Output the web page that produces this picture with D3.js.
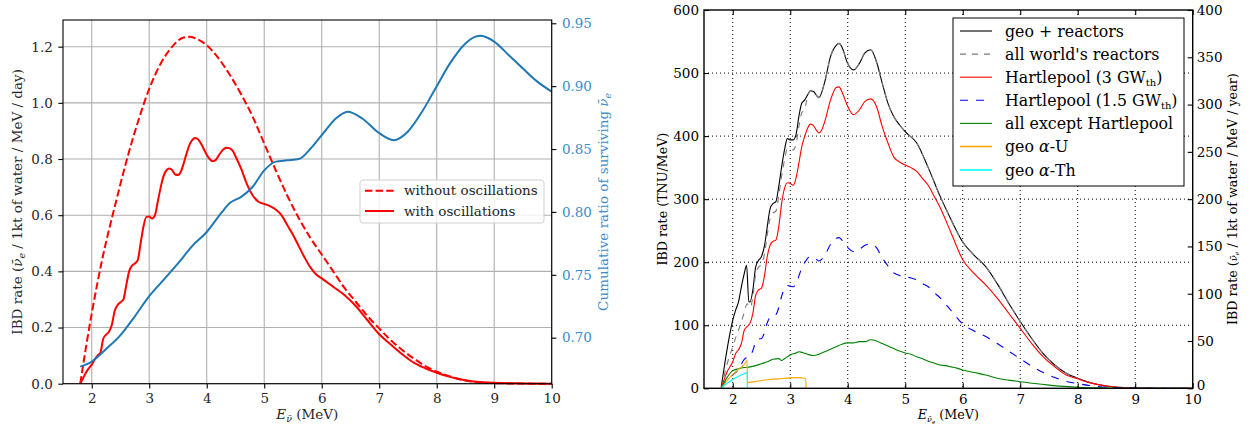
<!DOCTYPE html>
<html>
<head>
<meta charset="utf-8">
<script src="https://cdn.jsdelivr.net/npm/d3@7"></script>
<style>
body { margin: 0; background: white; }
svg text { font-family: "DejaVu Serif", serif; }
</style>
</head>
<body>
<div id="chart"></div>
<script>
// ---- left panel data ----
var noOscE = [1.8,1.9,2.0,2.2,2.4,2.6,2.8,3.0,3.2,3.4,3.6,3.7,3.8,4.0,4.2,4.4,4.6,4.8,5.0,5.2,5.4,5.6,5.8,6.0,6.2,6.4,6.6,6.8,7.0,7.2,7.4,7.6,7.8,8.0,8.2,8.4,8.6,8.8,9.0,9.5,10];
var noOscRate = [0,0.13,0.25,0.46,0.63,0.79,0.93,1.05,1.14,1.20,1.233,1.235,1.23,1.205,1.16,1.10,1.03,0.95,0.855,0.76,0.67,0.59,0.52,0.46,0.40,0.34,0.29,0.24,0.197,0.155,0.12,0.09,0.063,0.043,0.028,0.016,0.008,0.004,0.002,0.0005,0];

var oscE = [1.80,1.85,1.90,1.95,2.00,2.05,2.10,2.15,2.20,2.25,2.30,2.35,2.40,2.45,2.50,2.55,2.60,2.65,2.70,2.75,2.80,2.85,2.90,2.95,3.00,3.05,3.10,3.15,3.20,3.25,3.30,3.35,3.40,3.45,3.50,3.55,3.60,3.65,3.70,3.75,3.80,3.85,3.90,3.95,4.00,4.05,4.10,4.15,4.20,4.25,4.30,4.35,4.40,4.45,4.50,4.60,4.70,4.80,4.90,5.00,5.10,5.20,5.30,5.40,5.50,5.60,5.70,5.80,5.90,6.00,6.20,6.40,6.60,6.80,7.00,7.20,7.40,7.60,7.80,8.00,8.20,8.40,8.60,8.80,9.00,9.50,10];
var oscRate = [0,0.02,0.04,0.055,0.068,0.085,0.10,0.11,0.16,0.175,0.185,0.21,0.26,0.28,0.29,0.30,0.35,0.40,0.42,0.428,0.44,0.50,0.56,0.594,0.595,0.588,0.60,0.65,0.70,0.74,0.76,0.766,0.76,0.745,0.743,0.755,0.785,0.82,0.85,0.868,0.875,0.87,0.855,0.835,0.815,0.80,0.792,0.795,0.81,0.825,0.836,0.84,0.838,0.83,0.81,0.765,0.71,0.67,0.648,0.64,0.632,0.62,0.60,0.565,0.53,0.49,0.45,0.415,0.39,0.375,0.345,0.315,0.275,0.225,0.176,0.14,0.105,0.075,0.055,0.039,0.026,0.016,0.009,0.005,0.003,0.001,0];

var ratioE = [1.8,2.0,2.25,2.5,2.75,3.0,3.25,3.5,3.75,4.0,4.25,4.4,4.6,4.8,5.0,5.2,5.4,5.6,5.8,6.0,6.25,6.45,6.7,7.0,7.25,7.5,7.75,8.0,8.25,8.5,8.75,9.0,9.25,9.5,9.75,10];
var ratioVal = [0.677,0.681,0.691,0.702,0.717,0.733,0.746,0.759,0.773,0.784,0.799,0.807,0.812,0.820,0.833,0.840,0.841,0.842,0.850,0.861,0.8745,0.8797,0.8745,0.8626,0.857,0.864,0.880,0.900,0.9195,0.934,0.940,0.9354,0.9248,0.914,0.9036,0.8956];

var xTicks = [2,3,4,5,6,7,8,9,10];
var leftYTicks = [0,0.2,0.4,0.6,0.8,1.0,1.2];
var ratioTicks = [0.70,0.75,0.80,0.85,0.90,0.95];

// ---- right panel data ----
var totalE = [1.8,1.9,2.0,2.05,2.1,2.15,2.2,2.24,2.28,2.3,2.35,2.4,2.45,2.5,2.55,2.6,2.65,2.7,2.75,2.8,2.85,2.9,2.95,3.0,3.05,3.1,3.15,3.2,3.25,3.3,3.35,3.4,3.5,3.6,3.7,3.8,3.85,3.9,4.0,4.1,4.2,4.3,4.4,4.5,4.6,4.7,4.8,4.9,5.0,5.2,5.4,5.6,5.8,6.0,6.2,6.4,6.6,6.8,7.0,7.2,7.4,7.6,7.8,8.0,8.2,8.4,8.6,8.8,9.0,9.5,10];
var totalRate = [2,61,108,124,137,161,182,195,137,137,156,193,203,209,225,256,285,293,296,320,351,378,396,394,394,402,431,452,457,465,472,471,461,486,526,544,547,541,515,505,515,532,537,518,484,452,431,418,407,389,350,306,267,232,211,193,166,135,106,79,55,37,24,16,9.5,5.2,2.5,1,0.5,0.1,0];

var worldE = [1.8,1.9,2.0,2.05,2.1,2.15,2.2,2.25,2.3,2.35,2.4,2.45,2.5,2.55,2.6,2.65,2.7,2.75,2.8,2.85,2.9,2.95,3.0,3.05,3.1,3.15,3.2,3.25,3.3,3.35,3.4,3.5,3.6,3.7,3.8,3.85,3.9,4.0,4.1,4.2,4.3,4.4,4.5,4.6,4.7,4.8,4.9,5.0,5.2,5.4,5.6,5.8,6.0,6.2,6.4,6.6,6.8,7.0,7.2,7.4,7.6,7.8,8.0,8.2,8.4,8.6,8.8,9.0,9.5,10];
var worldRate = [0,38,66,80,92,106,120,134,128,145,182,192,197,212,243,270,278,281,305,336,362,380,378,378,387,415,437,442,462,472,471,461,486,526,544,547,541,515,505,515,532,537,518,484,452,431,418,407,389,350,306,267,232,211,193,166,135,106,79,55,37,24,16,9.5,5.2,2.5,1,0.5,0.1,0];

var hart3E = [1.8,1.9,2.0,2.05,2.1,2.15,2.2,2.25,2.3,2.35,2.4,2.45,2.5,2.55,2.6,2.65,2.7,2.75,2.8,2.85,2.9,2.95,3.0,3.05,3.1,3.15,3.2,3.25,3.3,3.35,3.4,3.45,3.5,3.55,3.6,3.7,3.8,3.85,3.9,4.0,4.1,4.2,4.3,4.4,4.5,4.6,4.7,4.8,4.9,5.0,5.1,5.2,5.3,5.4,5.5,5.6,5.8,6.0,6.2,6.4,6.6,6.8,7.0,7.2,7.4,7.6,7.8,8.0,8.2,8.4,8.6,8.8,9.0,9.5,10];
var hart3Rate = [0,26,42,55,61,71,92,98,103,119,148,156,159,177,209,227,233,235,256,293,317,326,325,322,333,357,383,399,412,419,417,410,405,410,423,457,477,478,470,447,434,441,455,459,447,415,389,367,359,354,350,344,333,322,305,288,246,204,182,164,143,119,95,71,50,34,21,15,9,5,2.5,1,0.5,0.1,0];

var hart15E = [1.8,1.9,2.0,2.1,2.2,2.25,2.3,2.35,2.4,2.45,2.5,2.55,2.6,2.65,2.7,2.75,2.8,2.85,2.9,2.95,3.0,3.05,3.1,3.15,3.2,3.25,3.3,3.35,3.4,3.45,3.5,3.55,3.6,3.7,3.8,3.85,3.9,4.0,4.1,4.2,4.3,4.4,4.5,4.6,4.7,4.8,4.9,5.0,5.1,5.2,5.3,5.4,5.5,5.6,5.8,6.0,6.2,6.4,6.6,6.8,7.0,7.2,7.4,7.6,7.8,8.0,8.2,8.4,8.6,8.8,9.0,9.5,10];
var hart15Rate = [0,13,21,30,46,49,51,60,74,78,79,88,104,113,116,117,128,146,158,163,162,161,166,178,191,199,206,209,208,205,202,205,211,228,238,239,235,223,217,220,227,229,223,207,194,183,179,177,175,172,166,161,152,144,123,102,91,82,71,59,47,35,25,17,11,7.5,4.5,2.5,1.2,0.5,0.2,0,0];

var otherE = [1.8,1.9,2.0,2.1,2.2,2.3,2.4,2.5,2.6,2.7,2.8,2.85,2.9,3.0,3.1,3.15,3.2,3.3,3.4,3.5,3.6,3.7,3.8,3.9,4.0,4.1,4.2,4.3,4.4,4.5,4.6,4.7,4.8,4.9,5.0,5.1,5.2,5.3,5.4,5.5,5.6,5.7,5.8,5.9,6.0,6.2,6.4,6.6,6.8,7.0,7.25,7.5,7.75,8.0,8.5,9.0,10];
var otherRate = [0,17,28,31,33,34,36,39,42,46,47,44,47,53,56,58,57,54,52,54,58,62,66,70,72,72,74,74,77,75,71,67,63,59,56,54,50,47,43,40,37,36,34,32,29,25,21,16,13,10.5,7.5,5,3,1.5,0.5,0.1,0];

var geoUE = [1.8,1.9,2.0,2.1,2.2,2.25,2.255,2.4,2.6,2.8,3.0,3.1,3.2,3.27,3.275];
var geoURate = [0,12,22,30,38,44,9,11,13.5,15,16.5,17,16.5,15.5,0];

var geoThE = [1.8,1.9,2.0,2.1,2.2,2.25,2.255];
var geoThRate = [0,8,14,19,23,25,0];

var tnuTicks = [0,100,200,300,400,500,600];
var yearTicks = [0,50,100,150,200,250,300,350,400];

var svg = d3.select("#chart").append("svg")
  .attr("width", 1250)
  .attr("height", 429)
  .style("background", "white");

function pts(xs, ys) { return xs.map(function (x, i) { return { e: x, v: ys[i] }; }); }

// ================= left panel =================
var L = { left: 63, right: 551.7, top: 20, bottom: 383.7 };
var xL = d3.scaleLinear().domain([1.5, 10]).range([L.left, L.right]);
var yL = d3.scaleLinear().domain([0, 1.295]).range([L.bottom, L.top]);
var yL2 = d3.scaleLinear().domain([0.6634, 0.9526]).range([L.bottom, L.top]);

var gl = svg.append("g");

gl.append("g").selectAll("line").data(xTicks).enter().append("line")
  .attr("x1", d => xL(d)).attr("x2", d => xL(d))
  .attr("y1", L.top).attr("y2", L.bottom)
  .attr("stroke", "#b0b0b0").attr("stroke-width", 1.1);
gl.append("g").selectAll("line").data(leftYTicks).enter().append("line")
  .attr("x1", L.left).attr("x2", L.right)
  .attr("y1", d => yL(d)).attr("y2", d => yL(d))
  .attr("stroke", "#b0b0b0").attr("stroke-width", 1.1);

var lineL = d3.line().x(d => xL(d.e)).y(d => yL(d.v)).curve(d3.curveMonotoneX);
var lineL2 = d3.line().x(d => xL(d.e)).y(d => yL2(d.v)).curve(d3.curveMonotoneX);

gl.append("path").datum(pts(noOscE, noOscRate))
  .attr("d", lineL).attr("fill", "none").attr("stroke", "#ff0000")
  .attr("stroke-width", 2).attr("stroke-dasharray", "7.4,3.2");
gl.append("path").datum(pts(oscE, oscRate))
  .attr("d", lineL).attr("fill", "none").attr("stroke", "#ff0000").attr("stroke-width", 2);
gl.append("path").datum(pts(ratioE, ratioVal))
  .attr("d", lineL2).attr("fill", "none").attr("stroke", "#1f77b4").attr("stroke-width", 2);

// axes
var axBL = gl.append("g").attr("transform", "translate(0," + L.bottom + ")")
  .call(d3.axisBottom(xL).tickValues(xTicks).tickFormat(d3.format("d")).tickSize(4.7).tickPadding(5).tickSizeOuter(0));
var axLL = gl.append("g").attr("transform", "translate(" + L.left + ",0)")
  .call(d3.axisLeft(yL).tickValues(leftYTicks).tickFormat(d3.format(".1f")).tickSize(4.7).tickPadding(5.5).tickSizeOuter(0));
var axRL = gl.append("g").attr("transform", "translate(" + L.right + ",0)")
  .call(d3.axisRight(yL2).tickValues(ratioTicks).tickFormat(d3.format(".2f")).tickSize(4.7).tickPadding(5.5).tickSizeOuter(0));
[axBL, axLL, axRL].forEach(function (a) {
  a.select(".domain").remove();
  a.selectAll("text").style("font-size", "13.5px").attr("fill", "#262626");
  a.selectAll("line").attr("stroke", "#000").attr("stroke-width", 1.1);
});
axRL.selectAll("text").attr("fill", "#3a8cc8");

gl.append("rect").attr("x", L.left).attr("y", L.top)
  .attr("width", L.right - L.left).attr("height", L.bottom - L.top)
  .attr("fill", "none").attr("stroke", "#000").attr("stroke-width", 1.1);

// labels
var ylab = gl.append("text")
  .attr("transform", "translate(22," + (L.top + L.bottom) / 2 + ") rotate(-90)")
  .attr("text-anchor", "middle").style("font-size", "13.5px").attr("fill", "#262626");
ylab.append("tspan").text("IBD rate (");
ylab.append("tspan").style("font-style", "italic").text("ν\u0304");
ylab.append("tspan").style("font-style", "italic").style("font-size", "9.5px").attr("dy", 3).text("e");
ylab.append("tspan").attr("dy", -3).text(" / 1kt of water / MeV / day)");

var y2lab = gl.append("text")
  .attr("transform", "translate(608," + (L.top + L.bottom) / 2 + ") rotate(-90)")
  .attr("text-anchor", "middle").style("font-size", "13.5px").attr("fill", "#3a8cc8");
y2lab.append("tspan").text("Cumulative ratio of surviving ");
y2lab.append("tspan").style("font-style", "italic").text("ν\u0304");
y2lab.append("tspan").style("font-style", "italic").style("font-size", "9.5px").attr("dy", 3).text("e");

var xlab = gl.append("text").attr("x", (L.left + L.right) / 2).attr("y", 419)
  .attr("text-anchor", "middle").style("font-size", "13.5px").attr("fill", "#262626");
xlab.append("tspan").style("font-style", "italic").text("E");
xlab.append("tspan").style("font-style", "italic").style("font-size", "9.5px").attr("dy", 3).text("ν\u0304");
xlab.append("tspan").attr("dy", -3).text(" (MeV)");

// legend
var legL = gl.append("g");
legL.append("rect").attr("x", 360).attr("y", 180).attr("width", 184).attr("height", 43)
  .attr("rx", 3).attr("fill", "white").attr("fill-opacity", 0.8)
  .attr("stroke", "#d0d0d0").attr("stroke-width", 1);
var legLItems = [
  { label: "without oscillations", dash: "7.4,3.2", y: 190.7 },
  { label: "with oscillations", dash: null, y: 211 }
];
legLItems.forEach(function (it) {
  legL.append("line").attr("x1", 365).attr("x2", 394).attr("y1", it.y).attr("y2", it.y)
    .attr("stroke", "#ff0000").attr("stroke-width", 2).attr("stroke-dasharray", it.dash);
  legL.append("text").attr("x", 404).attr("y", it.y + 4.7).style("font-size", "13.5px")
    .attr("fill", "#262626").text(it.label);
});

// ================= right panel =================
var R = { left: 704, right: 1192.7, top: 10, bottom: 388.3 };
var xR = d3.scaleLinear().domain([1.5, 10]).range([R.left, R.right]);
var yR = d3.scaleLinear().domain([0, 600]).range([R.bottom, R.top]);
var yR2 = d3.scaleLinear().domain([0, 400]).range([R.bottom, R.top]);

var gr = svg.append("g");

gr.append("g").selectAll("line").data(xTicks.slice(0, -1)).enter().append("line")
  .attr("x1", d => xR(d)).attr("x2", d => xR(d))
  .attr("y1", R.top).attr("y2", R.bottom)
  .attr("stroke", "#000").attr("stroke-width", 1).attr("stroke-dasharray", "1,3");
gr.append("g").selectAll("line").data(tnuTicks.slice(1, -1)).enter().append("line")
  .attr("x1", R.left).attr("x2", R.right)
  .attr("y1", d => yR(d)).attr("y2", d => yR(d))
  .attr("stroke", "#000").attr("stroke-width", 1).attr("stroke-dasharray", "1,3");

var lineR = d3.line().x(d => xR(d.e)).y(d => yR(d.v)).curve(d3.curveMonotoneX);

var seriesR = [
  { label: "geo + reactors", e: totalE, v: totalRate, color: "#000000", dash: null },
  { label: "all world's reactors", e: worldE, v: worldRate, color: "#7a7a7a", dash: "6,6" },
  { label: "Hartlepool (3 GW", sub: "th", e: hart3E, v: hart3Rate, color: "#ff0000", dash: null },
  { label: "Hartlepool (1.5 GW", sub: "th", e: hart15E, v: hart15Rate, color: "#0000ff", dash: "8,8" },
  { label: "all except Hartlepool", e: otherE, v: otherRate, color: "#008000", dash: null },
  { label: "geo α-U", e: geoUE, v: geoURate, color: "#ffa500", dash: null },
  { label: "geo α-Th", e: geoThE, v: geoThRate, color: "#00ffff", dash: null }
];

seriesR.forEach(function (s) {
  gr.append("path").datum(pts(s.e, s.v))
    .attr("d", lineR).attr("fill", "none").attr("stroke", s.color)
    .attr("stroke-width", 1.1).attr("stroke-dasharray", s.dash);
});

var axBR = gr.append("g").attr("transform", "translate(0," + R.bottom + ")")
  .call(d3.axisBottom(xR).tickValues(xTicks).tickFormat(d3.format("d")).tickSize(-5).tickPadding(6).tickSizeOuter(0));
var axTR = gr.append("g").attr("transform", "translate(0," + R.top + ")")
  .call(d3.axisTop(xR).tickValues(xTicks).tickFormat("").tickSize(-5).tickSizeOuter(0));
var axLR = gr.append("g").attr("transform", "translate(" + R.left + ",0)")
  .call(d3.axisLeft(yR).tickValues(tnuTicks).tickFormat(d3.format("d")).tickSize(-5).tickPadding(5).tickSizeOuter(0));
var axRR = gr.append("g").attr("transform", "translate(" + R.right + ",0)")
  .call(d3.axisRight(yR2).tickValues(yearTicks).tickFormat(d3.format("d")).tickSize(-5).tickPadding(4).tickSizeOuter(0));
[axBR, axTR, axLR, axRR].forEach(function (a) {
  a.select(".domain").remove();
  a.selectAll("text").style("font-size", "13.5px").attr("fill", "#000");
  a.selectAll("line").attr("stroke", "#000").attr("stroke-width", 1.1);
});
// the "0" on the right axis sits just above the "10" tick label, as in the original
axRR.selectAll("text").filter(d => d === 0).attr("dy", "0.1em");

gr.append("rect").attr("x", R.left).attr("y", R.top)
  .attr("width", R.right - R.left).attr("height", R.bottom - R.top)
  .attr("fill", "none").attr("stroke", "#000").attr("stroke-width", 1.4);

var ylabR = gr.append("text")
  .attr("transform", "translate(667," + (R.top + R.bottom) / 2 + ") rotate(-90)")
  .attr("text-anchor", "middle").style("font-size", "12.7px").text("IBD rate (TNU/MeV)");

var y2labR = gr.append("text")
  .attr("transform", "translate(1237," + (R.top + R.bottom) / 2 + ") rotate(-90)")
  .attr("text-anchor", "middle").style("font-size", "12.7px");
y2labR.append("tspan").text("IBD rate (");
y2labR.append("tspan").style("font-style", "italic").style("font-size", "10px").text("ν\u0304");
y2labR.append("tspan").style("font-style", "italic").style("font-size", "6px").attr("dy", 2).text("e");
y2labR.append("tspan").attr("dy", -2).text(" / 1kt of water / MeV / year)");

var xlabR = gr.append("text").attr("x", (R.left + R.right) / 2).attr("y", 419)
  .attr("text-anchor", "middle").style("font-size", "12.7px");
xlabR.append("tspan").style("font-style", "italic").text("E");
xlabR.append("tspan").style("font-style", "italic").style("font-size", "8px").attr("dy", 3).text("ν\u0304");
xlabR.append("tspan").style("font-style", "italic").style("font-size", "5.5px").attr("dy", 1.5).text("e");
xlabR.append("tspan").attr("dy", -4.5).text(" (MeV)");

// legend
var legR = gr.append("g");
legR.append("rect").attr("x", 953).attr("y", 18).attr("width", 231).attr("height", 168)
  .attr("fill", "white").attr("stroke", "#000").attr("stroke-width", 1);
seriesR.forEach(function (s, i) {
  var yy = i < 6 ? 31 + i * 23.1 : 170;
  legR.append("line").attr("x1", 960).attr("x2", 992).attr("y1", yy).attr("y2", yy)
    .attr("stroke", s.color).attr("stroke-width", s.color === "#00ffff" || s.color === "#ffa500" ? 1.6 : 1.1)
    .attr("stroke-dasharray", s.dash);
  var t = legR.append("text").attr("x", 1005).attr("y", yy + 5.6).style("font-size", "15.8px");
  if (s.label.indexOf("α") >= 0) {
    var parts = s.label.split("α");
    t.append("tspan").text(parts[0]);
    t.append("tspan").style("font-style", "italic").text("α");
    t.append("tspan").text(parts[1]);
  } else {
    t.append("tspan").text(s.label);
  }
  if (s.sub) {
    t.append("tspan").style("font-size", "10px").attr("dy", 3.5).text(s.sub);
    t.append("tspan").attr("dy", -3.5).text(")");
  }
});
</script>
</body>
</html>
